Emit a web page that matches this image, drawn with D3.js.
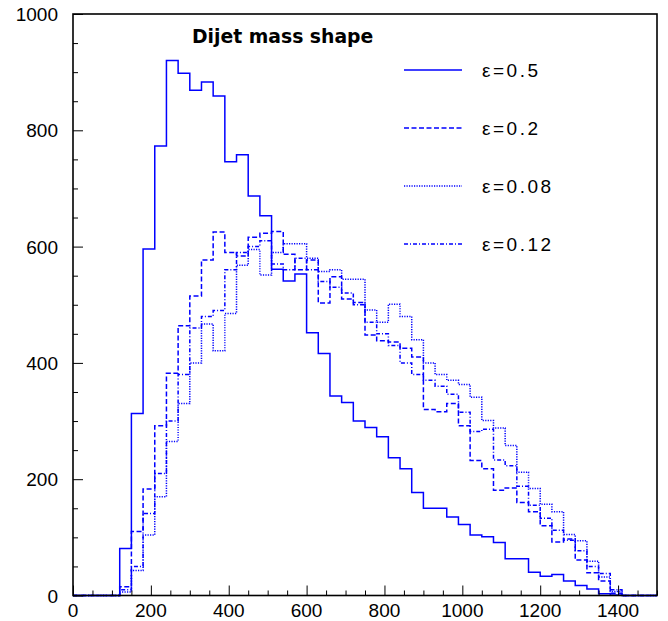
<!DOCTYPE html>
<html>
<head>
<meta charset="utf-8">
<script src="https://cdn.jsdelivr.net/npm/d3@7"></script>
<style>
  body { margin: 0; background: #fff; }
  text { font-family: "Liberation Sans", Arial, sans-serif; }
  text.title { font-family: "DejaVu Sans", sans-serif; font-weight: bold; }
</style>
</head>
<body>
<svg></svg>
<script>
/*
*  DATA
*/

// 50 bins of 30 GeV from 0 to 1500
let binWidth = 30
let eps05  = [0,0,0,0,81,313,596,773,920,898,869,883,859,746,758,687,653,561,541,553,452,416,343,332,300,289,273,237,218,177,150,150,135,122,104,101,91,63,63,40,33,36,25,17,11,3,1,0,0,0]
let eps02  = [0,0,0,0,15,110,183,292,382,464,515,577,625,590,584,616,623,626,587,560,577,503,548,510,504,448,438,436,425,410,320,316,330,292,232,218,181,185,160,144,120,92,97,61,39,25,4,0,0,0]
let eps008 = [0,0,0,0,6,43,104,170,265,330,400,467,421,485,568,595,551,590,605,605,580,557,560,544,544,491,470,501,480,440,400,380,370,363,341,301,288,258,212,184,157,144,105,94,59,32,7,0,0,0]
let eps012 = [0,0,0,0,10,50,141,210,300,380,460,480,490,560,590,600,610,570,560,580,560,540,530,520,500,470,450,430,400,380,370,360,346,315,282,286,233,223,188,155,133,112,95,77,50,38,10,0,0,0]

let seriesNames = ['ε=0.5', 'ε=0.2', 'ε=0.08', 'ε=0.12']
let seriesDash  = [null, '5,2.5', '1.2,1.3', '4,2,1,2']
let xTicks = [0,200,400,600,800,1000,1200,1400]
let yTicks = [0,200,400,600,800,1000]

/*
*  RUN
*/

let width = 668,
    height = 621,
    margin = {left: 73, right: 11, top: 14, bottom: 25.5}

let svg = d3.select('svg').attr('width', width).attr('height', height)

let x = d3.scaleLinear().domain([0, 1500]).range([margin.left, width - margin.right])
let y = d3.scaleLinear().domain([0, 1000]).range([height - margin.bottom, margin.top])

drawHists([eps05, eps02, eps008, eps012])
drawAxes()
drawLegend()

/*
*  HELPERS
*/

function drawHists(all){
  let line = d3.line().x(d => x(d[0])).y(d => y(d[1]))
  all.forEach((vals, i) => {
    let pts = []
    vals.forEach((v, k) => {
      pts.push([k * binWidth, v])
      pts.push([(k + 1) * binWidth, v])
    })
    svg.append('path')
      .attr('d', line(pts))
      .attr('fill', 'none')
      .attr('stroke', '#0000ff')
      .attr('stroke-width', 1.5)
      .attr('stroke-dasharray', seriesDash[i])
  })
}

function drawAxes(){
  let g = svg.append('g').attr('class', 'axes')
  let minorX = d3.range(0, 1501, 50).filter(v => v % 200 !== 0)
  let minorY = d3.range(0, 1001, 50).filter(v => v % 200 !== 0)

  let bottom = height - margin.bottom
  g.append('g').attr('transform', `translate(0,${bottom})`)
    .call(d3.axisBottom(x).tickValues(xTicks).tickSize(-10).tickFormat(''))
  g.append('g').attr('transform', `translate(0,${bottom})`)
    .call(d3.axisBottom(x).tickValues(minorX).tickSize(-5).tickFormat(''))
  g.append('g').attr('transform', `translate(${margin.left},0)`)
    .call(d3.axisLeft(y).tickValues(yTicks).tickSize(-10).tickFormat(''))
  g.append('g').attr('transform', `translate(${margin.left},0)`)
    .call(d3.axisLeft(y).tickValues(minorY).tickSize(-5).tickFormat(''))
  g.selectAll('.domain').remove()
  g.selectAll('.tick line').attr('stroke', '#000').attr('stroke-width', 1)

  // frame
  g.append('rect')
    .attr('x', x(0)).attr('y', y(1000))
    .attr('width', x(1500) - x(0)).attr('height', y(0) - y(1000))
    .attr('fill', 'none').attr('stroke', '#000').attr('stroke-width', 1.6)

  g.selectAll('.xlab').data(xTicks).enter().append('text')
    .attr('x', d => x(d)).attr('y', bottom + 21)
    .attr('text-anchor', 'middle').attr('font-size', 19)
    .text(d => d)
  g.selectAll('.ylab').data(yTicks).enter().append('text')
    .attr('x', margin.left - 15).attr('y', d => y(d) + 7)
    .attr('text-anchor', 'end').attr('font-size', 19)
    .text(d => d)
}

function drawLegend(){
  let l = svg.append('g').attr('class', 'legend')
  seriesNames.forEach((name, i) => {
    let yy = 70 + i * 58
    l.append('line')
      .attr('x1', 404).attr('x2', 462).attr('y1', yy).attr('y2', yy)
      .attr('stroke', '#0000ff').attr('stroke-width', 1.5)
      .attr('stroke-dasharray', seriesDash[i])
    l.append('text')
      .attr('x', 482).attr('y', yy + 7)
      .attr('font-size', 19).attr('letter-spacing', 2.5)
      .text(name)
  })
  svg.append('text')
    .attr('class', 'title')
    .attr('x', 192).attr('y', 43)
    .attr('font-size', 18.8)
    .text('Dijet mass shape')
}
</script>
</body>
</html>
